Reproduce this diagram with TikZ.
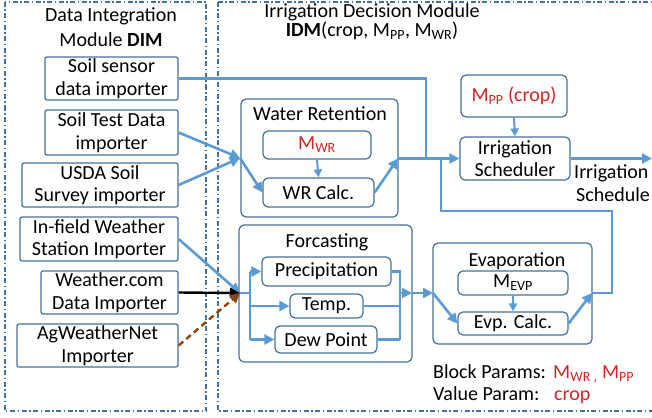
\documentclass[tikz,border=0pt]{standalone}
\usepackage{fontspec}
\setmainfont{Carlito}
\usetikzlibrary{arrows.meta}
\definecolor{frameblue}{HTML}{41719C}
\definecolor{linkblue}{HTML}{5B9BD5}
\definecolor{pred}{HTML}{D02424}
\definecolor{brownarr}{HTML}{8B4513}
\begin{document}
\begin{tikzpicture}[x=1pt,y=-1pt,
  every node/.style={font=\fontsize{20}{22.5}\selectfont, inner sep=0pt},
  importer/.style={draw=frameblue, line width=1.2pt, rounded corners=2pt, align=center},
  blockbox/.style={draw=frameblue, line width=1.2pt, rounded corners=5pt, align=center},
  moduleframe/.style={draw=frameblue, line width=1.6pt, dash pattern=on 5pt off 2.5pt on 1.5pt off 2.5pt},
  link/.style={draw=linkblue, line width=2.6pt},
  arr/.style={-{Triangle[length=10pt,width=10pt]}},
  smalllink/.style={draw=linkblue, line width=2pt, -{Triangle[length=8pt,width=8pt]}},
  blacklink/.style={draw=black, line width=2.4pt, -{Triangle[length=10pt,width=10pt]}},
  brownlink/.style={draw=brownarr, line width=2.4pt, dash pattern=on 6pt off 4pt, -{Triangle[length=10pt,width=10pt]}},
  redtext/.style={text=pred}
]
\useasboundingbox (0,0) rectangle (652,417);

% module frames
\draw[moduleframe] (5,2) rectangle (206,411);
\draw[moduleframe] (218,2) rectangle (668,411);

% titles
\node[anchor=base] (dimt1) at (111,22) {Data Integration};
\node[anchor=base] (dimt2) at (111,47) {Module \textbf{DIM}};
\node[anchor=north, align=center, font=\fontsize{20}{18.5}\selectfont] (idmt) at (372,3.5)
  {Irrigation Decision Module\\\textbf{IDM}(crop, M\textsubscript{PP}, M\textsubscript{WR})};

% importers
\node[importer, minimum width=133pt, minimum height=43pt] (ssd) at (111.5,78.5) {Soil sensor\\data importer};
\node[importer, minimum width=133pt, minimum height=45pt] (std) at (111.5,132.5) {Soil Test Data\\importer};
\node[importer, minimum width=156pt, minimum height=44pt] (usda) at (100,185) {USDA Soil\\Survey importer};
\node[importer, minimum width=158pt, minimum height=44pt] (ifw) at (99,239) {In-field Weather\\Station Importer};
\node[importer, minimum width=137pt, minimum height=43pt] (wcom) at (109.5,292.5) {Weather.com\\Data Importer};
\node[importer, minimum width=161pt, minimum height=43pt] (agw) at (97.5,345.5) {AgWeatherNet\\Importer};

% water retention
\node[blockbox, minimum width=157pt, minimum height=118pt] (wr) at (319.5,158) {};
\node[anchor=base] (wrt) at (320,120) {Water Retention};
\node[blockbox, minimum width=108pt, minimum height=28pt, redtext] (mwr) at (317,145) {M\textsubscript{WR}};
\node[blockbox, minimum width=111pt, minimum height=29pt] (wrc) at (318.5,192.5) {WR Calc.};

% forecasting
\node[blockbox, minimum width=173pt, minimum height=137pt] (fc) at (325.5,293.5) {};
\node[anchor=base] (fct) at (327,247) {Forcasting};
\node[blockbox, minimum width=129pt, minimum height=29pt] (prec) at (326.5,271.5) {Precipitation};
\node[blockbox, minimum width=73pt, minimum height=24pt] (temp) at (326.5,306) {Temp.};
\node[blockbox, minimum width=102pt, minimum height=27pt] (dew) at (326,339.5) {Dew Point};

% evaporation
\node[blockbox, minimum width=159pt, minimum height=101pt] (ev) at (512.5,293.5) {};
\node[anchor=base] (evt) at (517,266) {Evaporation};
\node[blockbox, minimum width=110pt, minimum height=24pt] (mevp) at (513,283) {M\textsubscript{EVP}};
\node[blockbox, minimum width=110pt, minimum height=23pt] (evc) at (513,323.5) {Evp. Calc.};

% scheduler
\node[blockbox, minimum width=106pt, minimum height=42pt, redtext] (mpp) at (514,96) {M\textsubscript{PP} (crop)};
\node[blockbox, minimum width=110pt, minimum height=43pt] (sched) at (515,158.5) {Irrigation\\Scheduler};
\node[anchor=base west] (outl1) at (574,178) {Irrigation};
\node[anchor=base west] (outl2) at (576,201) {Schedule};

% params
\node[anchor=base west] (bp) at (433,378) {Block Params:};
\node[anchor=base west, redtext] (bpv) at (553,378) {M\textsubscript{WR ,} M\textsubscript{PP}};
\node[anchor=base west] (vp) at (433,400) {Value Param:};
\node[anchor=base west, redtext] (vpv) at (554,400) {crop};

% junctions
\coordinate (j1) at (240,158);
\coordinate (j2) at (398,158.5);
\coordinate (sj) at (426,158.5);
\coordinate (j3) at (240,293);
\coordinate (fb) at (250,293);
\coordinate (fout) at (400,293);
\coordinate (fedge) at (412,293);
\coordinate (evin) at (433,293);
\coordinate (evout) at (592,293);
\coordinate (fbk1) at (612,293);
\coordinate (fbk2) at (612,211);
\coordinate (fbk3) at (441,211);
\coordinate (fbk4) at (441,158.5);
\coordinate (schedout) at (652,158.5);

% soil connectors
\draw[link] (ssd.east) -- (ssd.east -| sj) -- (sj);
\draw[link, arr] (std.east) -- (j1);
\draw[link, arr] (usda.east) -- (j1);
\draw[link, arr] (j1) -- (wrc.west);
\draw[smalllink] (mwr.south) -- (wrc.north);
\draw[link, arr] (wrc.east) -- (j2);
\draw[link, arr] (j2) -- (sched.west);
\draw[smalllink] (mpp.south) -- (sched.north);
\draw[link, arr] (sched.east) -- (schedout);

% weather connectors
\draw[link, arr] (ifw.east) -- (j3);
\draw[blacklink] (wcom.east) -- (j3);
\draw[brownlink] (agw.east) -- (j3);
\draw[link] (j3) -- (fb);
\draw[link] (prec.west -| fb) -- (dew.west -| fb);
\draw[link, arr] (prec.west -| fb) -- (prec.west);
\draw[link, arr] (temp.west -| fb) -- (temp.west);
\draw[link, arr] (dew.west -| fb) -- (dew.west);
\draw[link] (prec.east) -- (prec.east -| fout) -- (dew.east -| fout);
\draw[link] (temp.east) -- (temp.east -| fout);
\draw[link] (dew.east) -- (dew.east -| fout);
\draw[link, arr] (fout) -- (fedge);
\draw[link, arr] (fedge) -- (evin);
\draw[link, arr] (evin) -- (evc.west);
\draw[smalllink] (mevp.south) -- (evc.north);
\draw[link, arr] (evc.east) -- (evout);
\draw[link] (evout) -- (fbk1) -- (fbk2) -- (fbk3) -- (fbk4);
\end{tikzpicture}
\end{document}
